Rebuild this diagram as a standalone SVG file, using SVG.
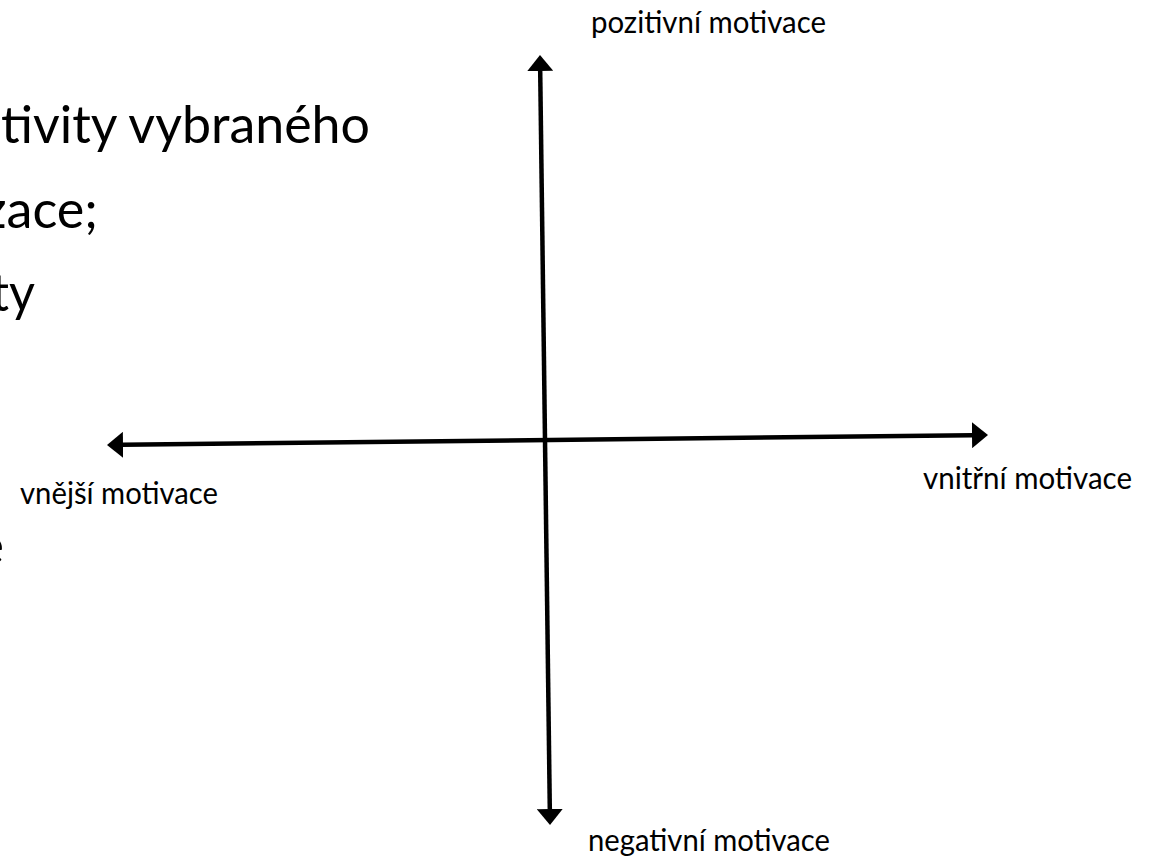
<svg xmlns="http://www.w3.org/2000/svg" width="1150" height="862" viewBox="0 0 1150 862">
  <style>
    .big { font-family: Lato, "Open Sans", "Liberation Sans", sans-serif; font-size: 53px; fill: #000; }
    .lbl { font-family: Lato, "Open Sans", "Liberation Sans", sans-serif; font-size: 30px; fill: #000; }
    .axis { stroke: #000; stroke-width: 4.5; fill: none; marker-start: url(#head); marker-end: url(#head); }
  </style>
  <defs>
    <marker id="head" viewBox="0 0 16 26" refX="0" refY="13" markerWidth="16" markerHeight="26" markerUnits="userSpaceOnUse" orient="auto-start-reverse">
      <path d="M0,0 L16,13 L0,26 Z" fill="#000"/>
    </marker>
  </defs>
  <rect width="1150" height="862" fill="#fff"/>
  <g id="background-text">
    <text class="big" x="370" y="143" text-anchor="end" textLength="369" lengthAdjust="spacingAndGlyphs">tivity vybraného</text>
    <text class="big" x="98" y="228" text-anchor="end" textLength="115" lengthAdjust="spacingAndGlyphs">zace;</text>
    <text class="big" x="35" y="311" text-anchor="end" textLength="44" lengthAdjust="spacingAndGlyphs">ty</text>
    <text class="big" x="4" y="564" text-anchor="end">e</text>
  </g>
  <g id="connectors">
    <line id="axis-vertical" class="axis" x1="540.2" y1="71" x2="549.8" y2="809"/>
    <line id="axis-horizontal" class="axis" x1="123" y1="444.8" x2="972" y2="435.2"/>
  </g>
  <g id="label-pozitivni">
    <text class="lbl" x="591" y="33" textLength="235" lengthAdjust="spacingAndGlyphs">pozitivní motivace</text>
  </g>
  <g id="label-negativni">
    <text class="lbl" x="588" y="851" textLength="242" lengthAdjust="spacingAndGlyphs">negativní motivace</text>
  </g>
  <g id="label-vnejsi">
    <text class="lbl" x="20" y="504" textLength="198" lengthAdjust="spacingAndGlyphs">vnější motivace</text>
  </g>
  <g id="label-vnitrni">
    <text class="lbl" x="923" y="489" textLength="209" lengthAdjust="spacingAndGlyphs">vnitřní motivace</text>
  </g>
</svg>
